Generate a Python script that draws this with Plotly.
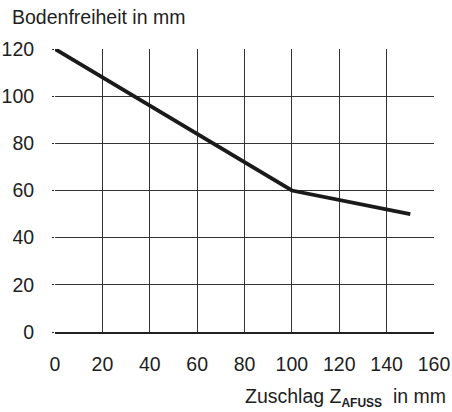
import plotly.graph_objects as go

x_vals = [0, 100, 150]
y_vals = [120, 60, 50]
x_ticks = [0, 20, 40, 60, 80, 100, 120, 140, 160]
y_ticks = [0, 20, 40, 60, 80, 100, 120]

FONT = "Liberation Sans, Arial, sans-serif"

L, R, T, B = 55, 18, 49, 80
PW, PH = 452 - L - R, 412 - T - B

fig = go.Figure()
fig.add_trace(go.Scatter(x=x_vals, y=y_vals, mode="lines",
                         line=dict(color="#1a1a1a", width=3.8),
                         showlegend=False, hoverinfo="skip", cliponaxis=False))

fig.update_layout(
    width=452, height=412,
    margin=dict(l=L, r=R, t=T, b=B, autoexpand=False),
    paper_bgcolor="white", plot_bgcolor="white",
    font=dict(family=FONT, size=19.5, color="#1e1e1e"),
    xaxis=dict(range=[0, 160], tickvals=x_ticks, showgrid=True,
               gridcolor="#333", gridwidth=1, zeroline=False,
               showline=True, linecolor="#222", linewidth=1.5,
               ticks="", ticklabelstandoff=14, fixedrange=True,
               automargin=False),
    yaxis=dict(range=[0, 120], tickvals=y_ticks, showgrid=True,
               gridcolor="#333", gridwidth=1, zeroline=False,
               showline=False, ticks="outside", ticklen=2, tickcolor="#222",
               ticklabelstandoff=14, fixedrange=True, automargin=False),
    annotations=[
        dict(text="Bodenfreiheit in mm", xref="paper", yref="paper",
             x=-(L - 10) / PW, y=1 + (T - 17) / PH, xanchor="left", yanchor="middle",
             showarrow=False, font=dict(family=FONT, size=19.5, color="#1e1e1e")),
        dict(text="Zuschlag Z<sub><b><span style=\"font-size:12px\">AFUSS</span></b></sub>  in mm",
             xref="paper", yref="paper",
             x=(448 - L) / PW, y=-(397 - (412 - B)) / PH, xanchor="right", yanchor="middle",
             showarrow=False, font=dict(family=FONT, size=19.5, color="#1e1e1e")),
    ],
)

fig.write_html("out.html", config={"displayModeBar": False},
               post_script="document.body.style.margin='0';document.body.style.overflow='hidden';")
